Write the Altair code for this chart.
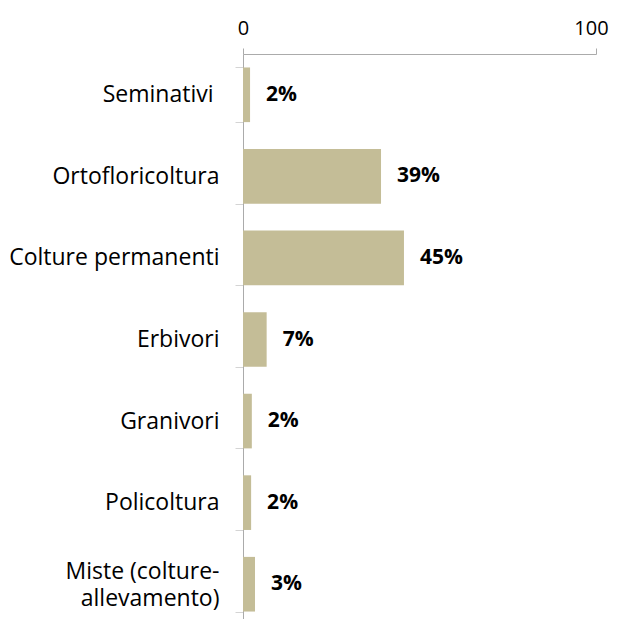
import altair as alt
import pandas as pd

categories = ["Seminativi", "Ortofloricoltura", "Colture permanenti", "Erbivori",
              "Granivori", "Policoltura", "Miste (colture-allevamento)"]
values = [2.0, 39.1, 45.6, 6.7, 2.5, 2.3, 3.4]
labels = ["2%", "39%", "45%", "7%", "2%", "2%", "3%"]
x_ticks = [0, 100]

df = pd.DataFrame({"cat": categories, "val": values, "lab": labels})

FONT = "Open Sans"

y_enc = alt.Y(
    "cat:N", sort=categories, title=None,
    scale=alt.Scale(paddingInner=0.33, paddingOuter=0.165),
    axis=alt.Axis(
        domainColor="#ABABAB", tickColor="#D4D4D4", tickSize=8, tickBand="extent",
        labelPadding={"condition": {"test": "datum.value == 'Seminativi'", "value": 22}, "value": 16},
        labelFontSize=23, labelFont=FONT, labelColor="#000000",
        labelLimit=400, labelLineHeight=27, labelOverlap=False,
        labelOffset={"condition": {"test": "datum.value == 'Miste (colture-allevamento)'", "value": -13}, "value": 0},
        labelExpr="datum.label == 'Miste (colture-allevamento)' ? ['Miste (colture-', 'allevamento)'] : datum.label",
    ),
)

x_enc = alt.X(
    "val:Q", title=None,
    scale=alt.Scale(domain=[0, 100], nice=False),
    axis=alt.Axis(
        orient="top", values=x_ticks, grid=False, labelFlush=False, labelOverlap=False,
        domainColor="#ABABAB", tickColor="#ABABAB", tickSize=6,
        labelOffset={"condition": {"test": "datum.value == 100", "value": -5}, "value": 0},
        labelPadding=10, labelFontSize=20, labelFont=FONT, labelColor="#000000",
    ),
)

bars = alt.Chart(df).mark_bar(color="#C4BD97").encode(x=x_enc, y=y_enc)
text = alt.Chart(df).mark_text(
    align="left", baseline="middle", dx=16, font=FONT, fontSize=21,
    fontWeight="bold", color="#000000",
).encode(x="val:Q", y=alt.Y("cat:N", sort=categories), text="lab:N")

chart = (bars + text).properties(
    width=353, height=571,
    autosize=alt.AutoSizeParams(type="none"),
    padding={"left": 235, "top": 46, "right": 13, "bottom": 0},
).configure_view(stroke=None)

chart.save("out.html", embed_options={"renderer": "svg", "actions": False})
